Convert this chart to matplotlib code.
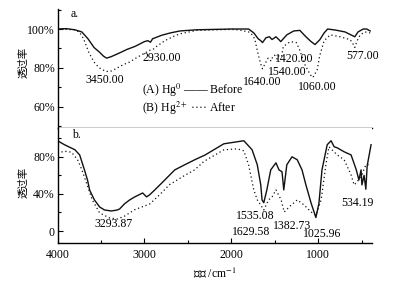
import matplotlib
matplotlib.use("Agg")
import matplotlib.pyplot as plt
from matplotlib.ticker import MultipleLocator, FuncFormatter

plt.rcParams['font.family'] = ['Liberation Serif', 'Noto Sans CJK SC']
plt.rcParams['mathtext.fontset'] = 'stix'

# panel a: Hg0 adsorption, before / after (wavenumber cm-1, transmittance %)
a_before_x = [4000, 3900, 3800, 3720, 3650, 3580, 3515, 3470, 3435, 3380, 3285, 3200, 3110, 3000,
              2960, 2930, 2905, 2800, 2700, 2590, 2400, 2000, 1800, 1740, 1690, 1660, 1640, 1600,
              1560, 1530, 1485, 1450, 1430, 1400, 1360, 1280, 1210, 1140, 1080, 1035, 980, 930,
              890, 805, 690, 600, 577, 540, 480, 440, 400]
a_before_y = [100, 100.2, 99.6, 98.5, 95, 90.5, 88, 86, 85, 85.8, 87.7, 89.5, 91, 93.5,
              94, 93.2, 95, 96.8, 98, 99, 99.6, 100, 100, 98, 95, 94, 93, 95.5,
              96, 94.6, 96, 94.5, 93.5, 95, 97, 99, 99.3, 96, 93.5, 92, 94.5, 98,
              100, 99.5, 98.5, 96.5, 96, 98.5, 100, 100, 99]

a_after_x = [4000, 3800, 3750, 3700, 3640, 3580, 3520, 3450, 3400, 3330, 3250, 3170, 3080, 3000,
             2940, 2900, 2860, 2765, 2650, 2590, 2400, 2000, 1900, 1800, 1775, 1730, 1690, 1660,
             1640, 1600, 1575, 1555, 1540, 1520, 1500, 1470, 1450, 1420, 1400, 1320, 1250, 1210,
             1150, 1090, 1060, 1010, 980, 930, 860, 745, 630, 600, 577, 550, 515, 460, 400]
a_after_y = [100, 99.6, 98.5, 95, 88, 83, 80, 78.3, 78, 79.5, 81.5, 83, 85.5, 87.5,
             89, 89.5, 91, 94, 96.5, 97.5, 99.3, 99.8, 99.5, 98.5, 98, 95, 87, 82,
             79.5, 83, 85, 84, 83.5, 86, 86.5, 84.5, 86.5, 86, 91, 93.5, 93, 89,
             81.5, 76.5, 75, 79, 86.5, 94, 97, 96, 94.5, 92.5, 90.5, 94, 97, 98.5, 98]

# panel b: Hg2+ adsorption, before / after
b_before_x = [4000, 3920, 3800, 3745, 3690, 3655, 3630, 3575, 3515, 3460, 3380, 3310, 3285, 3230,
              3170, 3110, 3020, 2975, 2940, 2880, 2765, 2650, 2535, 2420, 2300, 2085, 1855, 1760,
              1700, 1660, 1645, 1625, 1590, 1545, 1485, 1450, 1415, 1395, 1360, 1300, 1240, 1185,
              1140, 1080, 1025, 990, 955, 895, 850, 815, 780, 700, 620, 560, 530, 505,
              495, 470, 450, 435, 390]
b_before_y = [97.3, 93, 87.6, 82, 65.9, 55, 44, 33.5, 25.9, 22.7, 21.6, 22.7, 23.8, 29.2,
              33.5, 36.8, 41, 36.8, 39, 44.3, 55, 65.9, 71.4, 76.8, 82, 94, 97.3, 87.6,
              71.4, 49.7, 33.5, 30.5, 44.3, 65.9, 73.5, 65.9, 63.8, 44.3, 71.4, 80, 76.8, 65.9,
              49.7, 30, 14.5, 30, 65.9, 93, 97.3, 90.8, 89.7, 85.4, 82, 65.9, 55, 65.9,
              49.7, 60, 45, 70, 93]

b_after_x = [4000, 3920, 3840, 3770, 3720, 3660, 3600, 3515, 3400, 3310, 3230, 3110, 3000, 2940,
             2825, 2710, 2535, 2420, 2315, 2085, 1930, 1855, 1800, 1740, 1700, 1660, 1625, 1570,
             1530, 1485, 1425, 1390, 1310, 1240, 1160, 1080, 1025, 965, 910, 875, 840, 780,
             700, 620, 585, 550, 495, 450, 390]
b_after_y = [84, 86, 85, 77, 66, 50, 33.5, 19.5, 14, 13, 16, 23, 27, 29,
             39, 50, 60, 66, 75, 87.5, 88.6, 86.5, 71.4, 44.3, 33.5, 28, 22.7, 33.5,
             36.8, 44.3, 33.5, 20.5, 28, 33.5, 28, 20.5, 17, 33.5, 71.4, 90.8, 87.6, 82,
             76.8, 60.5, 49.7, 53, 60.5, 71.4, 71.4]

a_labels = ["3450.00", "2930.00", "1640.00", "1540.00", "1420.00", "1060.00", "577.00"]
a_label_x = [3458, 2800, 1646, 1357, 1277, 1011, 492]
a_label_y = [73.8, 85.1, 72.8, 78.0, 84.6, 70.3, 86.2]

b_labels = ["3293.87", "1535.08", "1629.58", "1382.73", "1025.96", "534.19"]
b_label_x = [3354, 1727, 1773, 1300, 953, 549]
b_label_y = [7.6, 16.2, -1.1, 5.4, -3.2, 30.3]

legend_rows = ["(A) Hg$^{0}$ —— Before", "(B) Hg$^{2+}$ ···· After"]

fs = 8.5
solid = dict(color="#111111", lw=1.0, ls="-")
dotted = dict(color="#111111", lw=0.9, ls=(0, (1, 2.2)))

fig = plt.figure(figsize=(4.08, 2.82), dpi=100)
ax1 = fig.add_axes([0.141, 0.546, 0.771, 0.422])
ax2 = fig.add_axes([0.141, 0.138, 0.771, 0.408])

ax1.plot(a_before_x, a_before_y, **solid)
ax1.plot(a_after_x, a_after_y, **dotted)
ax2.plot(b_before_x, b_before_y, **solid)
ax2.plot(b_after_x, b_after_y, **dotted)

for ax in (ax1, ax2):
    ax.set_xlim(4000, 378)
    for s in ("top", "right"):
        ax.spines[s].set_visible(False)
    ax.spines["left"].set_linewidth(1.0)
    ax.spines["bottom"].set_linewidth(1.0)
    ax.tick_params(direction="in", labelsize=fs, length=3.5, width=0.8, pad=2)
    ax.tick_params(which="minor", direction="in", length=2.5, width=0.8)

ax1.set_ylim(49, 110.3)
ax1.yaxis.set_major_locator(MultipleLocator(20))
ax1.yaxis.set_minor_locator(MultipleLocator(10))
ax1.yaxis.set_major_formatter(FuncFormatter(lambda v, p: f"{v:.0f}%"))
ax1.tick_params(axis="x", which="both", bottom=False, labelbottom=False)

ax2.set_ylim(-13, 111)
ax2.yaxis.set_major_locator(MultipleLocator(40))
ax2.yaxis.set_minor_locator(MultipleLocator(20))
ax2.yaxis.set_major_formatter(FuncFormatter(lambda v, p: "0" if v == 0 else f"{v:.0f}%"))
ax2.xaxis.set_major_locator(MultipleLocator(1000))
ax2.xaxis.set_minor_locator(MultipleLocator(500))
ax2.tick_params(axis="x", pad=4)

for t, x, y in zip(a_labels, a_label_x, a_label_y):
    ax1.text(x, y, t, fontsize=fs, ha="center", va="center")
for t, x, y in zip(b_labels, b_label_x, b_label_y):
    ax2.text(x, y, t, fontsize=fs, ha="center", va="center")

ax1.text(3850, 107.7, "a.", fontsize=fs, ha="left", va="center")
ax2.text(3830, 103.8, "b.", fontsize=fs, ha="left", va="center")

# legend rows as in the original figure
ax1.text(0.269, 0.319, legend_rows[0], transform=ax1.transAxes, fontsize=fs, ha="left", va="center")
ax1.text(0.269, 0.168, legend_rows[1], transform=ax1.transAxes, fontsize=fs, ha="left", va="center")

ax1.set_ylabel("透过率", fontsize=7.5)
ax2.set_ylabel("透过率", fontsize=7.5)
ax1.yaxis.set_label_coords(-0.093, 0.55)
ax2.yaxis.set_label_coords(-0.093, 0.53)
ax2.set_xlabel("波数 /cm$^{-1}$", fontsize=fs, labelpad=4)

fig.savefig("out.png", dpi=100)
